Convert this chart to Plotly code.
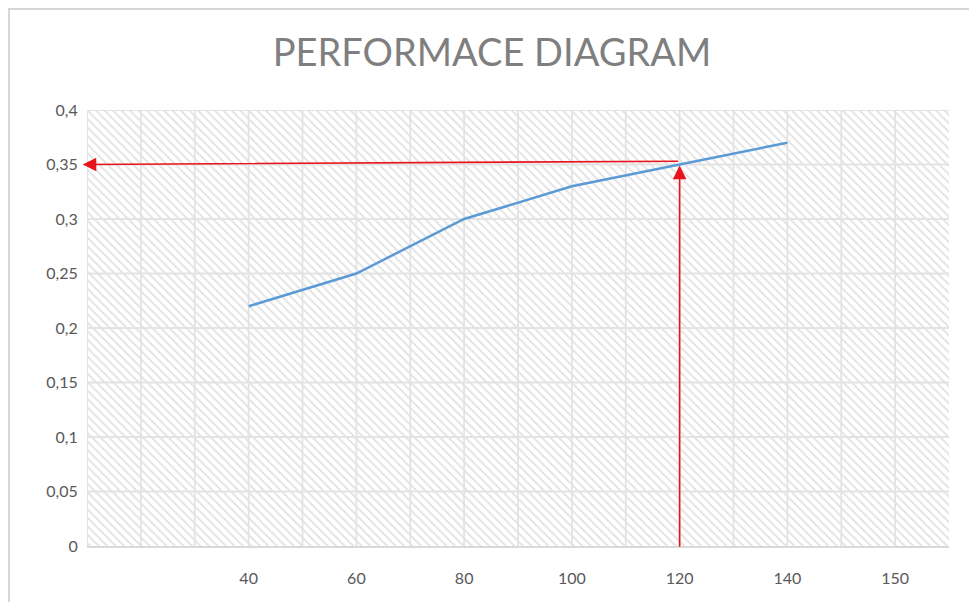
import plotly.graph_objects as go

# ---- data ----
categories = ["", "40", "60", "80", "100", "120", "140", "150"]
series_x = ["40", "60", "80", "100", "120", "140"]
series_y = [0.22, 0.25, 0.30, 0.33, 0.35, 0.37]
y_ticks = [0, 0.05, 0.1, 0.15, 0.2, 0.25, 0.3, 0.35, 0.4]
y_tick_labels = ["0", "0,05", "0,1", "0,15", "0,2", "0,25", "0,3", "0,35", "0,4"]
read_x = "120"
read_y = 0.353

OFF = 8  # page body offset
W, H = 977 - OFF, 602 - OFF
L, R, T, B = 79, 28, 102, 56
x_range = [-0.5, len(categories) - 0.5]
y_range = [0, 0.4]

xi = [categories.index(c) for c in series_x]
rx = categories.index(read_x)

fig = go.Figure()

# hatched plot-area background
fig.add_trace(go.Scatter(
    x=[x_range[0], x_range[1], x_range[1], x_range[0], x_range[0]],
    y=[y_range[0], y_range[0], y_range[1], y_range[1], y_range[0]],
    mode="lines", line=dict(width=0), fill="toself",
    fillcolor="rgba(0,0,0,0)",
    fillpattern=dict(shape="\\", fgcolor="#c2c2c2", bgcolor="white", size=6, solidity=0.3),
    hoverinfo="skip", showlegend=False,
))

# gridlines drawn over the hatch
grid_x = [x_range[0] + 0.5 * k for k in range(int((x_range[1] - x_range[0]) / 0.5) + 1)]
gx, gy = [], []
for v in grid_x[1:-1]:
    gx += [v, v, None]
    gy += [y_range[0], y_range[1], None]
for v in y_ticks[1:]:
    gx += [x_range[0], x_range[1], None]
    gy += [v, v, None]
fig.add_trace(go.Scatter(x=gx, y=gy, mode="lines", line=dict(color="#e3e3e3", width=1.8),
                         hoverinfo="skip", showlegend=False))
# left edge line of plot area
fig.add_trace(go.Scatter(x=[x_range[0], x_range[0]], y=y_range, mode="lines",
                         line=dict(color="#e3e3e3", width=1.8), hoverinfo="skip", showlegend=False))

fig.add_trace(go.Scatter(
    x=xi, y=series_y, mode="lines",
    line=dict(color="#5b9bd5", width=2.5),
    showlegend=False,
))

red = "#e8141b"
fig.add_annotation(x=x_range[0] - 0.04, y=0.350, ax=rx, ay=read_y,
                   xref="x", yref="y", axref="x", ayref="y",
                   showarrow=True, arrowhead=2, arrowsize=1.7, arrowwidth=1.6,
                   arrowcolor=red, standoff=0, text="")
fig.add_annotation(x=rx, y=read_y - 0.004, ax=rx, ay=-0.002,
                   xref="x", yref="y", axref="x", ayref="y",
                   showarrow=True, arrowhead=2, arrowsize=1.7, arrowwidth=1.6,
                   arrowcolor=red, standoff=0, text="")

pw = W - L - R
ph = H - T - B
plot_left = OFF + L
plot_bottom = OFF + H - B
# outer chart border (screen px -> paper)
bx0, bx1, by_top, by_bot = 9, 972, 9, 610
fig.add_shape(type="path", xref="paper", yref="paper",
              path=f"M {(bx0-plot_left)/pw} {(plot_bottom-by_bot)/ph} L {(bx0-plot_left)/pw} {(plot_bottom-by_top)/ph} "
                   f"L {(bx1-plot_left)/pw} {(plot_bottom-by_top)/ph} L {(bx1-plot_left)/pw} {(plot_bottom-by_bot)/ph}",
              line=dict(color="#d6d6d6", width=2))

fig.update_layout(
    width=W, height=H,
    margin=dict(l=L, r=R, t=T, b=B),
    paper_bgcolor="white", plot_bgcolor="white",
    title=dict(text="PERFORMACE DIAGRAM", x=(492 - OFF) / W, xanchor="center",
               y=1 - (53 - OFF) / H, yanchor="middle",
               font=dict(family="Lato", size=38, color="#7f7f7f")),
    font=dict(family="Lato", color="#595959", size=16),
    xaxis=dict(range=x_range, tickmode="array", tickvals=list(range(len(categories))),
               ticktext=categories, showgrid=False,
               ticks="outside", ticklen=17, tickcolor="rgba(0,0,0,0)",
               showline=True, linecolor="#d9d9d9", linewidth=1.5, zeroline=False, fixedrange=True),
    yaxis=dict(range=y_range, tickmode="array", tickvals=y_ticks, ticktext=y_tick_labels,
               showgrid=False,
               ticks="outside", ticklen=5, tickcolor="rgba(0,0,0,0)",
               showline=False, zeroline=False, fixedrange=True),
)

fig.write_html("out.html")
